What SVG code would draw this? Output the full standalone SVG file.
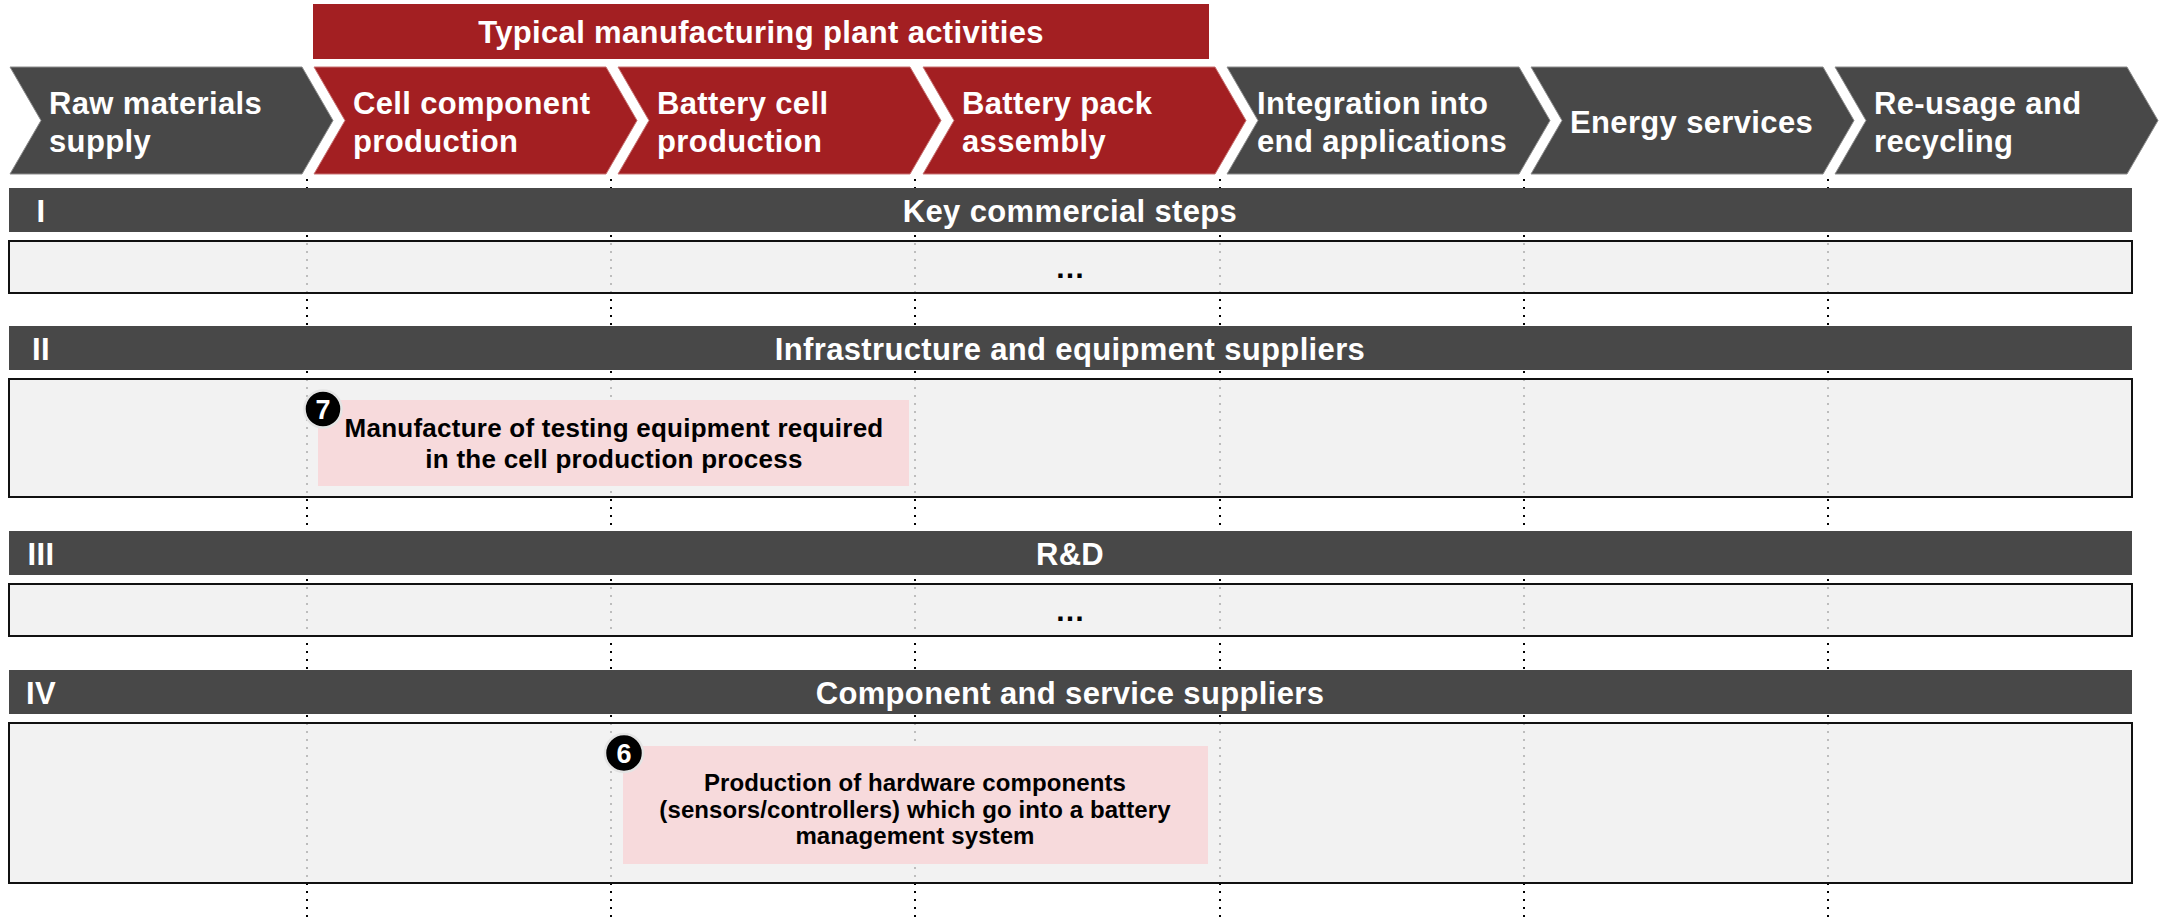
<svg xmlns="http://www.w3.org/2000/svg" width="2161" height="919" viewBox="0 0 2161 919">
<defs>
<style>
.t{font-family:"Liberation Sans",Arial,sans-serif;font-weight:bold}
.big{font-size:31px;letter-spacing:0.35px;fill:#fff}
.mid{text-anchor:middle}
.band{fill:#484848}
.box{fill:#F2F2F2;stroke:#111;stroke-width:2}
.chevd{fill:#484848;stroke:#8c8c8c;stroke-width:1}
.chevr{fill:#A31F22;stroke:#c97272;stroke-width:1}
.grid{stroke:#000;stroke-width:2;stroke-dasharray:2 6;fill:none}
.gridl{stroke:#bdbdbd;stroke-width:2;stroke-dasharray:2 6;fill:none}
.card{fill:#F7DADC}
.badge{fill:#000;stroke:#e4e4e4;stroke-width:2.5}
.num{font-size:27px;fill:#fff;text-anchor:middle}
.ct{fill:#000;text-anchor:middle}
.c7{font-size:26px;letter-spacing:0.25px}
.c6{font-size:24px;letter-spacing:0.1px}
.dots{font-size:30px;fill:#000;text-anchor:middle}
</style>
<clipPath id="boxclip">
<rect x="10" y="242" width="2121" height="50"/>
<rect x="10" y="380" width="2121" height="116"/>
<rect x="10" y="585" width="2121" height="50"/>
<rect x="10" y="724" width="2121" height="158"/>
</clipPath>
</defs>

<g id="gridlines">
<path class="grid" d="M307,179V919M611,179V919M915,179V919M1220,179V919M1524,179V919M1828,179V919"/>
</g>

<g id="banner">
<rect x="313" y="4" width="896" height="55" fill="#A31F22"/>
<text class="t big mid" x="761" y="43">Typical manufacturing plant activities</text>
</g>

<g id="chevron-raw">
<path class="chevd" d="M10,67H302L333,120.5L302,174H10L41,120.5Z"/>
<text class="t big" x="49" y="114">Raw materials</text>
<text class="t big" x="49" y="152">supply</text>
</g>
<g id="chevron-cellcomp">
<path class="chevr" d="M314,67H606L637,120.5L606,174H314L345,120.5Z"/>
<text class="t big" x="353" y="114">Cell component</text>
<text class="t big" x="353" y="152">production</text>
</g>
<g id="chevron-cell">
<path class="chevr" d="M618,67H910L941,120.5L910,174H618L649,120.5Z"/>
<text class="t big" x="657" y="114">Battery cell</text>
<text class="t big" x="657" y="152">production</text>
</g>
<g id="chevron-pack">
<path class="chevr" d="M923,67H1215L1246,120.5L1215,174H923L954,120.5Z"/>
<text class="t big" x="962" y="114">Battery pack</text>
<text class="t big" x="962" y="152">assembly</text>
</g>
<g id="chevron-integration">
<path class="chevd" d="M1227,67H1519L1550,120.5L1519,174H1227L1258,120.5Z"/>
<text class="t big" x="1257" y="114">Integration into</text>
<text class="t big" x="1257" y="152">end applications</text>
</g>
<g id="chevron-energy">
<path class="chevd" d="M1531,67H1823L1854,120.5L1823,174H1531L1562,120.5Z"/>
<text class="t big" x="1570" y="133">Energy services</text>
</g>
<g id="chevron-recycling">
<path class="chevd" d="M1835,67H2127L2158,120.5L2127,174H1835L1866,120.5Z"/>
<text class="t big" x="1874" y="114">Re-usage and</text>
<text class="t big" x="1874" y="152">recycling</text>
</g>

<g id="row-I">
<rect class="band" x="9" y="188" width="2123" height="44"/>
<text class="t big mid" x="41" y="222">I</text>
<text class="t big mid" x="1070" y="222">Key commercial steps</text>
<rect class="box" x="9" y="241" width="2123" height="52"/>
</g>
<g id="row-II">
<rect class="band" x="9" y="326" width="2123" height="44"/>
<text class="t big mid" x="41" y="360">II</text>
<text class="t big mid" x="1070" y="360">Infrastructure and equipment suppliers</text>
<rect class="box" x="9" y="379" width="2123" height="118"/>
</g>
<g id="row-III">
<rect class="band" x="9" y="531" width="2123" height="44"/>
<text class="t big mid" x="41" y="565">III</text>
<text class="t big mid" x="1070" y="565">R&amp;D</text>
<rect class="box" x="9" y="584" width="2123" height="52"/>
</g>
<g id="row-IV">
<rect class="band" x="9" y="670" width="2123" height="44"/>
<text class="t big mid" x="41" y="704">IV</text>
<text class="t big mid" x="1070" y="704">Component and service suppliers</text>
<rect class="box" x="9" y="723" width="2123" height="160"/>
</g>

<g id="gridlines-inner" clip-path="url(#boxclip)">
<path class="gridl" d="M307,179V919M611,179V919M915,179V919M1220,179V919M1524,179V919M1828,179V919"/>
</g>

<g id="ellipsis-I">
<text class="t dots" x="1070" y="278">…</text>
</g>
<g id="ellipsis-III">
<text class="t dots" x="1070" y="621">…</text>
</g>

<g id="card-7">
<rect class="card" x="318" y="400" width="591" height="86"/>
<text class="t ct c7" x="614" y="437">Manufacture of testing equipment required</text>
<text class="t ct c7" x="614" y="468">in the cell production process</text>
<circle class="badge" cx="323" cy="409" r="18.5"/>
<text class="t num" x="323" y="419">7</text>
</g>

<g id="card-6">
<rect class="card" x="623" y="746" width="585" height="118"/>
<text class="t ct c6" x="915" y="791">Production of hardware components</text>
<text class="t ct c6" x="915" y="817.5">(sensors/controllers) which go into a battery</text>
<text class="t ct c6" x="915" y="844">management system</text>
<circle class="badge" cx="624" cy="753" r="19"/>
<text class="t num" x="624" y="763">6</text>
</g>
</svg>
